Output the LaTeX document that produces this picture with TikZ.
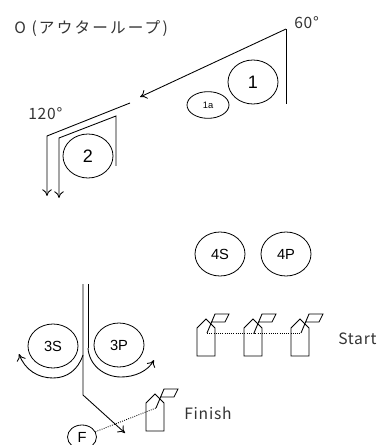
\documentclass[tikz,border=0pt]{standalone}
\usepackage{fontspec}
\setmainfont{Liberation Sans}
\newfontfamily\jpspaced[LetterSpace=5]{Noto Sans CJK JP}
\newfontfamily\jptitle[LetterSpace=14]{Noto Sans CJK JP}
\usetikzlibrary{arrows.meta,shapes.geometric}
\tikzset{
  oval/.style={draw,ellipse,inner sep=0pt,minimum width=#1*0.75pt,font=\fontsize{13.5}{15}\selectfont,line width=0.6pt},
  lbl/.style={inner sep=0pt,font=\jpspaced\fontsize{11.7}{13}\selectfont,text=black!80},
  line/.style={line width=0.65pt},
  arr/.style={line width=0.65pt,-{To[length=5pt,width=7pt]}},
  dots/.style={line width=0.65pt,densely dotted}
}
\newcommand{\boatat}[3]{%
  \begin{scope}[shift={(#1,#2)}]
    \draw[line] (-9,23) -- (-9,-5) -- (0,-14) -- (9,-5) -- (9,23) -- cycle;
    \draw[line] (1,0) -- (9,-19) -- (23,-19) -- (19,-11) -- (5,-11);
    \coordinate (#3) at (1,0);
  \end{scope}}
\begin{document}
\begin{tikzpicture}[x=0.75pt,y=-0.75pt]
\useasboundingbox (0,0) rectangle (379,445);
% labels
\node[lbl,anchor=west,font=\jptitle\fontsize{11.7}{13}\selectfont] (title) at (14,29) {O (アウターループ)};
\node[lbl,anchor=west] (a60) at (294,23) {60°};
\node[lbl,anchor=west] (a120) at (28,114) {120°};
% ovals
\node[oval=50,minimum height=33pt] (n1) at (253,82) {1};
\node[oval=42,minimum height=20pt,font=\fontsize{7}{8}\selectfont] (n1a) at (208,105) {1a};
\node[oval=50,minimum height=33pt] (n2) at (88,156) {2};
\node[oval=50,minimum height=33pt,font=\fontsize{11}{12}\selectfont] (n3s) at (53,346) {3S};
\node[oval=50,minimum height=33pt,font=\fontsize{11}{12}\selectfont] (n3p) at (119,345) {3P};
\node[oval=50,minimum height=33pt,font=\fontsize{11}{12}\selectfont] (n4s) at (220,254) {4S};
\node[oval=50,minimum height=33pt,font=\fontsize{11}{12}\selectfont] (n4p) at (286,254) {4P};
\node[oval=29,minimum height=18pt,font=\fontsize{11}{12}\selectfont] (nf) at (82,437) {F};
% top lines
\coordinate (p60) at (286,29);
\coordinate (p60b) at (286,104);
\coordinate (head1) at (140,97);
\draw[line] (p60b) -- (p60);
\draw[arr] (p60) -- (head1);
\coordinate (o1) at (130,103);
\coordinate (o2) at (47,136);
\coordinate (o3) at (47,196);
\draw[arr] (o1) -- (o2) -- (o3);
\coordinate (i0) at (116,166);
\coordinate (i1) at (116,116);
\coordinate (i2) at (59,138);
\coordinate (i3) at (59,198);
\draw[arr] (i0) -- (i1) -- (i2) -- (i3);
% lower left
\coordinate (l0) at (83,284);
\coordinate (l1) at (83,395);
\coordinate (l2) at (125,433);
\draw[arr] (l0) -- (l1) -- (l2);
\coordinate (r0) at (88,284);
\coordinate (r1) at (88,348);
\coordinate (bl) at (19,354);
\coordinate (br) at (154,360);
\draw[line] (r0) -- (r1);
\draw[arr] (83,355) .. controls (78,370) and (67,378) .. (53,378) .. controls (38,378) and (25,370) .. (bl);
\draw[arr] (r1) .. controls (89,365) and (104,377) .. (121,377) .. controls (135,377) and (148,371) .. (br);
% boats
\boatat{206}{333}{b1}
\boatat{253}{333}{b2}
\boatat{300}{333}{b3}
\boatat{155}{408}{b4}
\draw[dots] (b1) -- (b2) -- (b3);
\draw[dots] (nf) -- (b4);
\node[lbl,anchor=west] (start) at (338,339) {Start};
\node[lbl,anchor=west] (finish) at (184,413) {Finish};
\end{tikzpicture}
\end{document}
